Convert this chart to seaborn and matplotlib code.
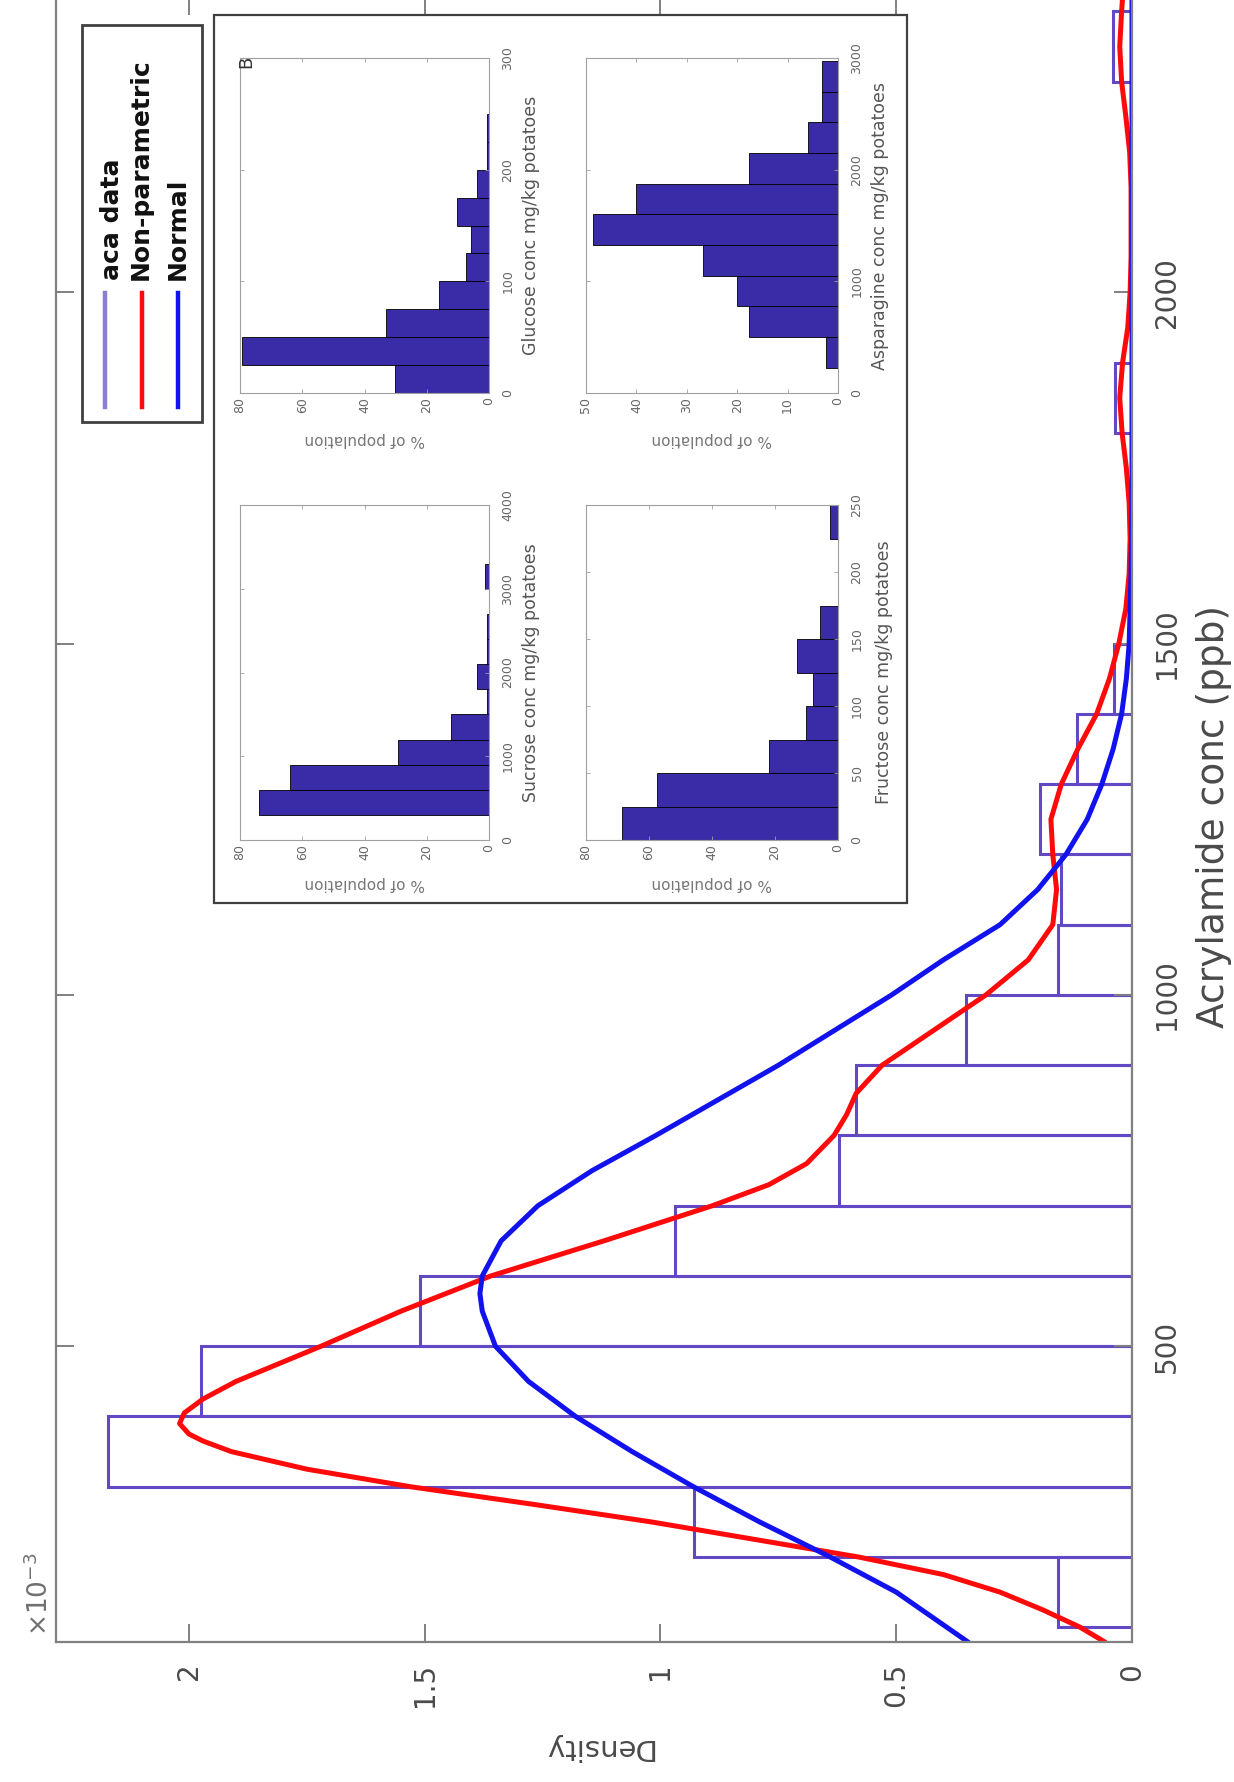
import matplotlib
matplotlib.use("Agg")
import matplotlib.pyplot as plt
import seaborn as sns
from matplotlib.patches import Rectangle
from matplotlib.lines import Line2D

# ---------------- data ----------------
aca_edges = [100, 200, 300, 400, 500, 600, 700, 800, 900, 1000, 1100, 1200,
             1300, 1400, 1500, 1600, 1700, 1800, 1900, 2000, 2100, 2200, 2300, 2400]
aca_density = [0.156, 0.929, 2.172, 1.975, 1.511, 0.969, 0.622, 0.585, 0.351,
               0.156, 0.150, 0.195, 0.117, 0.038, 0.0, 0.0, 0.0, 0.036, 0.0,
               0.0, 0.0, 0.0, 0.040]

nonpar_conc = [80, 100, 125, 150, 175, 200, 225, 250, 275, 300, 325, 350, 365,
               375, 390, 405, 425, 450, 500, 550, 600, 650, 700, 730, 760, 800,
               830, 860, 900, 950, 1000, 1050, 1100, 1150, 1200, 1250, 1300, 1350,
               1400, 1450, 1500, 1550, 1600, 1650, 1700, 1750, 1800, 1850, 1900,
               1950, 2000, 2050, 2100, 2150, 2200, 2250, 2300, 2350, 2400, 2420]
nonpar_density = [0.06, 0.11, 0.19, 0.28, 0.40, 0.58, 0.80, 1.02, 1.27, 1.53,
                  1.75, 1.91, 1.97, 2.00, 2.02, 2.01, 1.97, 1.90, 1.72, 1.55,
                  1.36, 1.12, 0.89, 0.77, 0.69, 0.632, 0.605, 0.585, 0.53, 0.42,
                  0.31, 0.22, 0.168, 0.160, 0.168, 0.172, 0.150, 0.115, 0.075,
                  0.048, 0.028, 0.013, 0.006, 0.004, 0.006, 0.012, 0.021, 0.026,
                  0.020, 0.009, 0.004, 0.002, 0.002, 0.002, 0.005, 0.013, 0.022,
                  0.026, 0.022, 0.020]

normal_conc = [80, 150, 200, 250, 300, 350, 400, 450, 500, 550, 575, 600, 650,
               700, 750, 800, 850, 900, 950, 1000, 1050, 1100, 1150, 1200, 1250,
               1300, 1350, 1400, 1450, 1500, 1600, 1700, 2000, 2420]
normal_density = [0.35, 0.50, 0.64, 0.79, 0.93, 1.06, 1.18, 1.28, 1.35, 1.378,
                  1.383, 1.378, 1.338, 1.26, 1.145, 1.01, 0.88, 0.75, 0.63, 0.51,
                  0.40, 0.28, 0.20, 0.14, 0.095, 0.064, 0.040, 0.022, 0.012,
                  0.006, 0.002, 0.0, 0.0, 0.0]

density_ticks = [0, 0.5, 1, 1.5, 2]
density_tick_labels = ["0", "0.5", "1", "1.5", "2"]
conc_ticks = [500, 1000, 1500, 2000]
legend_labels = ["aca data", "Non-parametric", "Normal"]

glucose_edges = [0, 25, 50, 75, 100, 125, 150, 175, 200, 225, 250]
glucose_pct = [30.3, 79.4, 33.2, 16.2, 7.4, 5.9, 10.3, 3.7, 0.7, 0.7]
asparagine_edges = [225, 500, 775, 1050, 1325, 1600, 1875, 2150, 2425, 2700, 2975]
asparagine_pct = [2.3, 17.7, 20.0, 26.8, 48.6, 40.0, 17.7, 5.9, 3.2, 3.2]
sucrose_edges = [300, 600, 900, 1200, 1500, 1800, 2100, 2400, 2700, 3000, 3300]
sucrose_pct = [73.8, 63.8, 29.2, 12.1, 0.7, 3.7, 0.7, 0.7, 0.0, 1.2]
fructose_edges = [0, 25, 50, 75, 100, 125, 150, 175, 200, 225, 250]
fructose_pct = [68.7, 57.5, 21.8, 10.2, 8.0, 13.1, 5.8, 0.0, 0.0, 2.6]

# ---------------- styling ----------------
BAR_C = "#6248c4"
RED = "#ff0a0a"
BLUE = "#1212ee"
INSET_C = "#3a2ca6"
SPINE_C = "#808080"
TXT_C = "#4a4a4a"

plt.rcParams["font.family"] = ["DejaVu Sans"]

W, H = 1234, 1782
fig = plt.figure(figsize=(W / 100, H / 100), dpi=100)
fig.patch.set_facecolor("white")


def rect(x0, y0, x1, y1):
    return [x0 / W, 1 - y1 / H, (x1 - x0) / W, (y1 - y0) / H]


def fx(x):
    return x / W


def fy(y):
    return 1 - y / H


def centers(edges):
    return [(a + b) / 2 for a, b in zip(edges[:-1], edges[1:])]


# ---------------- main axes (rotated view) ----------------
ax = fig.add_axes(rect(56, -2.6, 1132, 1642))
ax.set_facecolor("white")

sns.histplot(y=centers(aca_edges), weights=aca_density, bins=aca_edges,
             fill=False, element="bars", color=BAR_C, edgecolor=BAR_C,
             linewidth=2.2, ax=ax)
sns.lineplot(x=nonpar_density, y=nonpar_conc, sort=False, estimator=None,
             orient="y", color=RED, linewidth=3.6, ax=ax)
sns.lineplot(x=normal_density, y=normal_conc, sort=False, estimator=None,
             orient="y", color=BLUE, linewidth=3.6, ax=ax)

ax.set_xlim(2.282, 0)
ax.set_ylim(79, 2420)
ax.set_xlabel("")
ax.set_ylabel("")
ax.set_xticks(density_ticks, density_tick_labels)
ax.set_yticks(conc_ticks, [str(v) for v in conc_ticks])
ax.minorticks_off()
for s in ax.spines.values():
    s.set_color(SPINE_C)
    s.set_linewidth(1.6)
ax.tick_params(axis="x", which="major", bottom=True, top=True, direction="in",
               length=13, width=1.4, color=SPINE_C, labelcolor=TXT_C,
               labelsize=20, pad=15, labelrotation=90)
ax.tick_params(axis="y", which="major", left=True, right=True, labelleft=False,
               labelright=True, direction="in", length=13, width=1.4,
               color=SPINE_C, labelcolor=TXT_C, labelsize=20, pad=15,
               labelrotation=90)
for t in ax.yaxis.get_major_ticks():
    t.label2.set_va("center")
if ax.legend_ is not None:
    ax.legend_.remove()

fig.text(fx(1214), fy(817), "Acrylamide conc (ppb)", rotation=90, ha="center",
         va="center", fontsize=27, color=TXT_C)
fig.text(fx(598), fy(1747), "Density", rotation=180, ha="center", va="center",
         fontsize=21, color=TXT_C)
fig.text(fx(40), fy(1636), r"$\times10^{-3}$", rotation=90, ha="center",
         va="bottom", fontsize=19, color="#707070")

# ---------------- legend (rotated) ----------------
fig.add_artist(Rectangle((fx(82), fy(422)), (202 - 82) / W, (422 - 25) / H,
                         transform=fig.transFigure, facecolor="white",
                         edgecolor="#404040", linewidth=2, zorder=5))
leg_x_line = [105, 142, 178]
leg_x_text = [112, 141, 178]
leg_colors = ["#8c7cd4", RED, BLUE]
for xl, xt, c, lab in zip(leg_x_line, leg_x_text, leg_colors, legend_labels):
    fig.add_artist(Line2D([fx(xl), fx(xl)], [fy(293), fy(407)],
                          transform=fig.transFigure, color=c, linewidth=3.2,
                          zorder=6))
    fig.text(fx(xt), fy(280), lab, rotation=90, ha="center", va="bottom",
             fontsize=18, fontweight="bold", color="#111111", zorder=7)

# ---------------- inset ----------------
fig.add_artist(Rectangle((fx(214), fy(903)), (907 - 214) / W, (903 - 15) / H,
                         transform=fig.transFigure, facecolor="white",
                         edgecolor="#404040", linewidth=1.6, zorder=5))

panels = [
    (glucose_edges, glucose_pct, (240, 58, 489, 393), 80, [0, 20, 40, 60, 80],
     300, [0, 100, 200, 300], "Glucose conc mg/kg potatoes", 531, 440),
    (asparagine_edges, asparagine_pct, (586, 58, 838, 393), 50,
     [0, 10, 20, 30, 40, 50], 3000, [0, 1000, 2000, 3000],
     "Asparagine conc mg/kg potatoes", 880, 440),
    (sucrose_edges, sucrose_pct, (240, 505, 489, 840), 80, [0, 20, 40, 60, 80],
     4000, [0, 1000, 2000, 3000, 4000], "Sucrose conc mg/kg potatoes", 531, 884),
    (fructose_edges, fructose_pct, (586, 505, 838, 840), 80,
     [0, 20, 40, 60, 80], 250, [0, 50, 100, 150, 200, 250],
     "Fructose conc mg/kg potatoes", 884, 884),
]

for edges, pct, (x0, y0, x1, y1), pmax, pticks, cmax, cticks, clab, clx, ply in panels:
    axi = fig.add_axes(rect(x0, y0, x1, y1))
    axi.set_zorder(6)
    axi.set_facecolor("white")
    sns.histplot(y=centers(edges), weights=pct, bins=edges, color=INSET_C,
                 edgecolor="black", linewidth=0.6, alpha=1, ax=axi)
    axi.set_xlim(pmax, 0)
    axi.set_ylim(0, cmax)
    axi.set_xlabel("")
    axi.set_ylabel("")
    axi.set_xticks(pticks, [str(v) for v in pticks])
    axi.set_yticks(cticks, [str(v) for v in cticks])
    axi.minorticks_off()
    for s in axi.spines.values():
        s.set_color("#a0a0a0")
        s.set_linewidth(0.8)
    axi.tick_params(axis="x", bottom=True, top=True, direction="in", length=3,
                    width=0.6, color="#a0a0a0", labelcolor="#666666",
                    labelsize=9, pad=3, labelrotation=90)
    axi.tick_params(axis="y", left=True, right=True, labelleft=False,
                    labelright=True, direction="in", length=3, width=0.6,
                    color="#a0a0a0", labelcolor="#666666", labelsize=9,
                    pad=9, labelrotation=90)
    for t in axi.yaxis.get_major_ticks():
        t.label2.set_va("center")
    fig.text(fx(clx), fy((y0 + y1) / 2), clab, rotation=90, ha="center",
             va="center", fontsize=12.5, color="#555555", zorder=7)
    fig.text(fx((x0 + x1) / 2), fy(ply), "% of population", rotation=180,
             ha="center", va="center", fontsize=11, color="#777777", zorder=7)

fig.text(fx(246), fy(62), "B", rotation=90, ha="center", va="center",
         fontsize=13, color="#333333", zorder=7)

fig.savefig("out.png", dpi=100, facecolor="white")
